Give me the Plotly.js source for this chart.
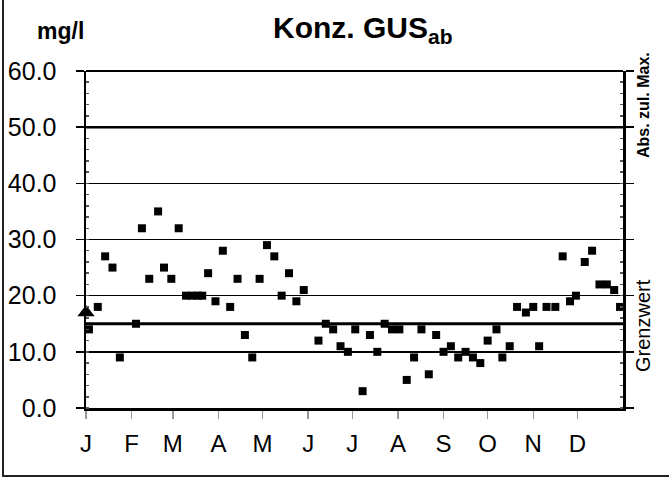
<!DOCTYPE html>
<html>
<head>
<meta charset="utf-8">
<script src="https://cdn.plot.ly/plotly-3.0.1.min.js"></script>
<style>html,body{margin:0;padding:0;background:#fff;}#chart{width:669px;height:479px;}</style>
</head>
<body>
<div id="chart"></div>
<script>
// Day of year of each sample and measured concentration (mg/l)
const sampleDays = [2, 8, 13, 18, 23, 34, 38, 43, 49, 53, 58, 63, 68, 72, 76, 79, 83, 88, 93, 98, 103, 108, 113, 118, 123, 128, 133, 138, 143, 148, 158, 163, 168, 173, 178, 183, 188, 193, 198, 203, 208, 213, 218, 223, 228, 233, 238, 243, 248, 253, 258, 263, 268, 273, 279, 283, 288, 293, 299, 304, 308, 313, 319, 324, 329, 333, 339, 344, 349, 354, 359, 363];
const concValues = [14, 18, 27, 25, 9, 15, 32, 23, 35, 25, 23, 32, 20, 20, 20, 20, 24, 19, 28, 18, 23, 13, 9, 23, 29, 27, 20, 24, 19, 21, 12, 15, 14, 11, 10, 14, 3, 13, 10, 15, 14, 14, 5, 9, 14, 6, 13, 10, 11, 9, 10, 9, 8, 12, 14, 9, 11, 18, 17, 18, 11, 18, 18, 27, 19, 20, 26, 28, 22, 22, 21, 18];
// Triangle marker at start of year
const markerDay = [0];
const markerValue = [17];
// Limits
const grenzwert = 15;
const absZulMax = 50;
// Month axis
const monthStarts = [0, 31, 59, 90, 120, 151, 181, 212, 243, 273, 304, 334];
const monthLabels = ['J', 'F', 'M', 'A', 'M', 'J', 'J', 'A', 'S', 'O', 'N', 'D'];
const yTicks = [0, 10, 20, 30, 40, 50, 60];

const W = 669, H = 479;
const mL = 86, mR = 46, mT = 71, mB = 71;
const pw = W - mL - mR, ph = H - mT - mB;
const px = v => (v - mL) / pw;           // pixel -> paper x
const py = v => (H - mB - v) / ph;       // pixel -> paper y

const traces = [
  {x: sampleDays, y: concValues, type: 'scatter', mode: 'markers',
   marker: {symbol: 'square', size: 8, color: '#000'}, cliponaxis: false},
  {x: markerDay, y: markerValue, type: 'scatter', mode: 'markers',
   marker: {symbol: 'triangle-up', size: 15, color: '#000'}, cliponaxis: false}
];

const layout = {
  width: W, height: H,
  margin: {l: mL, r: mR, t: mT, b: mB},
  paper_bgcolor: '#fff', plot_bgcolor: '#fff',
  showlegend: false,
  font: {family: 'Liberation Sans, Arial, sans-serif', color: '#000'},
  xaxis: {
    range: [0, 365], tickmode: 'array', tickvals: monthStarts, ticktext: monthLabels,
    ticks: 'outside', ticklen: 8, tickcolor: '#999', tickwidth: 1.5,
    tickfont: {size: 24, color: '#000'}, ticklabelstandoff: 5,
    showgrid: false, zeroline: false,
    showline: true, linecolor: '#000', linewidth: 2.5, mirror: false
  },
  yaxis: {
    range: [0, 60], tickmode: 'array', tickvals: yTicks,
    ticktext: yTicks.map(v => v.toFixed(1)),
    ticks: 'outside', ticklen: 8, tickcolor: '#000', tickwidth: 1.5,
    tickfont: {size: 25, color: '#000'}, ticklabelstandoff: 14,
    showgrid: true, gridcolor: '#000', gridwidth: 1.5,
    zeroline: false, showline: true, linecolor: '#000', linewidth: 2.5, mirror: 'allticks',
    minor: {dtick: 2, ticks: 'inside', ticklen: 3, tickcolor: '#555', showgrid: false}
  },
  shapes: [
    {type: 'line', xref: 'paper', yref: 'y', x0: 0, x1: 1, y0: grenzwert, y1: grenzwert, line: {color: '#000', width: 3}},
    {type: 'line', xref: 'paper', yref: 'y', x0: 0, x1: 1, y0: absZulMax, y1: absZulMax, line: {color: '#000', width: 2.5}},
    {type: 'line', xref: 'paper', yref: 'paper', x0: 0, x1: 1, y0: 1, y1: 1, line: {color: '#000', width: 2}},
    // figure frame (left and bottom)
    {type: 'line', xref: 'paper', yref: 'paper', x0: px(3), x1: px(3), y0: py(477), y1: py(0), line: {color: '#222', width: 2}},
    {type: 'line', xref: 'paper', yref: 'paper', x0: px(3), x1: px(669), y0: py(476), y1: py(476), line: {color: '#222', width: 2}}
  ],
  annotations: [
    {text: '<b>Konz. GUS<sub>ab</sub></b>', xref: 'paper', yref: 'paper', x: px(363), y: py(30),
     showarrow: false, font: {size: 30, color: '#000'}, xanchor: 'center', yanchor: 'middle'},
    {text: '<b>mg/l</b>', xref: 'paper', yref: 'paper', x: px(60), y: py(31),
     showarrow: false, font: {size: 23, color: '#000'}, xanchor: 'center', yanchor: 'middle'},
    {text: '<b>Abs. zul. Max.</b>', xref: 'paper', yref: 'paper', x: px(643), y: py(105),
     showarrow: false, textangle: -90, font: {size: 16, color: '#000'}, xanchor: 'center', yanchor: 'middle'},
    {text: 'Grenzwert', xref: 'paper', yref: 'paper', x: px(643), y: py(326),
     showarrow: false, textangle: -90, font: {size: 20, color: '#000'}, xanchor: 'center', yanchor: 'middle'}
  ]
};

Plotly.newPlot('chart', traces, layout, {displayModeBar: false, staticPlot: true});
</script>
</body>
</html>
